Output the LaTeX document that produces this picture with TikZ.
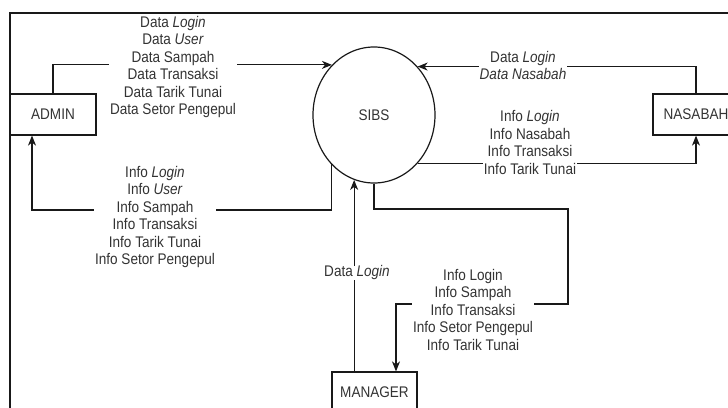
\documentclass[tikz,border=0pt]{standalone}
\usepackage{fontspec}
\setmainfont[FakeStretch=0.88]{Liberation Sans}
\usetikzlibrary{shapes.geometric,arrows.meta}
\begin{document}
\begin{tikzpicture}[x=1pt,y=-1pt,
  font=\fontsize{15.4}{17.5}\selectfont,
  ent/.style={draw=black!90, line width=1.2pt, minimum width=86pt, minimum height=41pt, inner sep=0pt, text=black!80},
  proc/.style={ellipse, draw=black!90, line width=1.2pt, minimum width=122pt, minimum height=136pt, inner sep=0pt, text=black!80},
  flow/.style={draw=black!90, line width=1.2pt, -{Stealth[length=10pt,width=8pt,inset=3pt]}},
  lbl/.style={fill=white, align=center, inner xsep=1pt, inner ysep=0pt, text=black!80}]
\useasboundingbox (0,0) rectangle (728,407);
\clip (0,0) rectangle (728,407);
\draw[line width=1.2pt, black!90] (10,420) -- (10,13) -- (740,13);

\node[ent] (admin) at (53,114.5) {ADMIN};
\node[ent] (nasabah) at (696,114.5) {NASABAH};
\node[ent, minimum width=85pt] (manager) at (374.5,392.5) {MANAGER};
\node[proc] (sibs) at (374,115) {SIBS};

\coordinate (a1) at (32,210);
\coordinate (m1) at (568,209);
\coordinate (m2) at (396,304);

% flows
\draw[flow] (admin.north) |- (sibs.130.8);
\draw[flow] (nasabah.north) |- (sibs.48);
\draw[flow] (sibs.312) -| (nasabah.south);
\draw[flow] (sibs.229.6) |- (a1) -- (a1 |- admin.south);
\draw[flow] (sibs.253.6 |- manager.north) -- (sibs.253.6);
\draw[flow] (sibs.south) |- (m1) |- (m2) -- (m2 |- manager.north);

% labels
\node[lbl] (l1) at (173,67) {Data \textit{Login}\\Data \textit{User}\\Data Sampah\\Data Transaksi\\Data Tarik Tunai\\Data Setor Pengepul};
\node[lbl] (l2) at (523,65.5) {Data \textit{Login}\\\textit{Data Nasabah}};
\node[lbl] (l3) at (530,142.5) {Info \textit{Login}\\Info Nasabah\\Info Transaksi\\Info Tarik Tunai};
\node[lbl] (l4) at (155,217) {Info \textit{Login}\\Info \textit{User}\\Info Sampah\\Info Transaksi\\Info Tarik Tunai\\Info Setor Pengepul};
\node[lbl] (l5) at (357,273) {Data \textit{Login}};
\node[lbl] (l6) at (473,309.5) {Info Login\\Info Sampah\\Info Transaksi\\Info Setor Pengepul\\Info Tarik Tunai};
\end{tikzpicture}
\end{document}
